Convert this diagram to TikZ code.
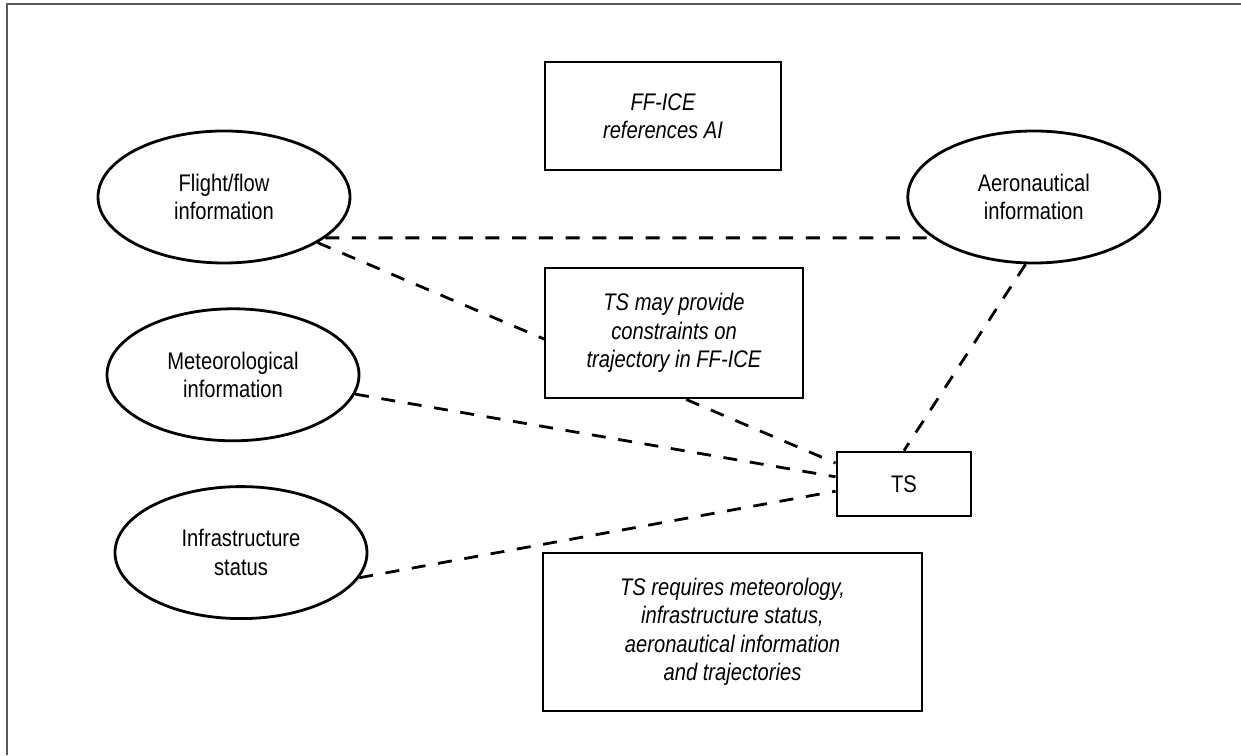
\documentclass[tikz,border=0pt]{standalone}
\usepackage{fontspec}
\setmainfont{Liberation Sans}[FakeStretch=0.84]
\usetikzlibrary{positioning,shapes.geometric}

\newcommand{\diagfont}{\fontsize{24}{28.5}\selectfont}
\tikzset{
  info/.style={ellipse, draw, line width=2.8pt, minimum width=252pt,
    minimum height=132pt, inner sep=0pt, align=center, font=\diagfont},
  note/.style={rectangle, draw, line width=2.8pt, fill=white, inner sep=0pt,
    align=center, font=\diagfont\itshape},
  link/.style={line width=2.8pt, dash pattern=on 14pt off 12.7pt}
}

\begin{document}
\begin{tikzpicture}[x=1pt,y=1pt]
\useasboundingbox (0,0) rectangle (1241,755);
\draw[line width=2pt, black!65] (7,0) -- (7,751) -- (1241,751);

\node[info] (flight) at (224,558) {Flight/flow\\information};
\node[info, right=555pt of flight] (aero) {Aeronautical\\information};
\node[info, below=43pt of flight, xshift=9pt] (meteo) {Meteorological\\information};
\node[info, below=43pt of meteo, xshift=8pt] (infra) {Infrastructure\\status};

\node[note, minimum width=236pt, minimum height=108pt] (ffice) at (663,639) {FF-ICE\\references AI};
\node[note, font=\diagfont, minimum width=134pt, minimum height=64pt] (ts) at (904,271) {TS};
\node[note, minimum width=379pt, minimum height=158pt] (req) at (732.5,123)
  {TS requires meteorology,\\infrastructure status,\\aeronautical information\\and trajectories};

\draw[link] (flight.-22.5) -- (aero.202.5)
      (flight.-26.6) -- (ts.163)
      (meteo.-9.5) -- (ts.174)
      (infra.-12.5) -- (ts.186)
      (aero.-97) -- (ts.north);

\node[note, minimum width=258pt, minimum height=130pt] (constr) at (674,422)
  {TS may provide\\constraints on\\trajectory in FF-ICE};
\end{tikzpicture}
\end{document}
